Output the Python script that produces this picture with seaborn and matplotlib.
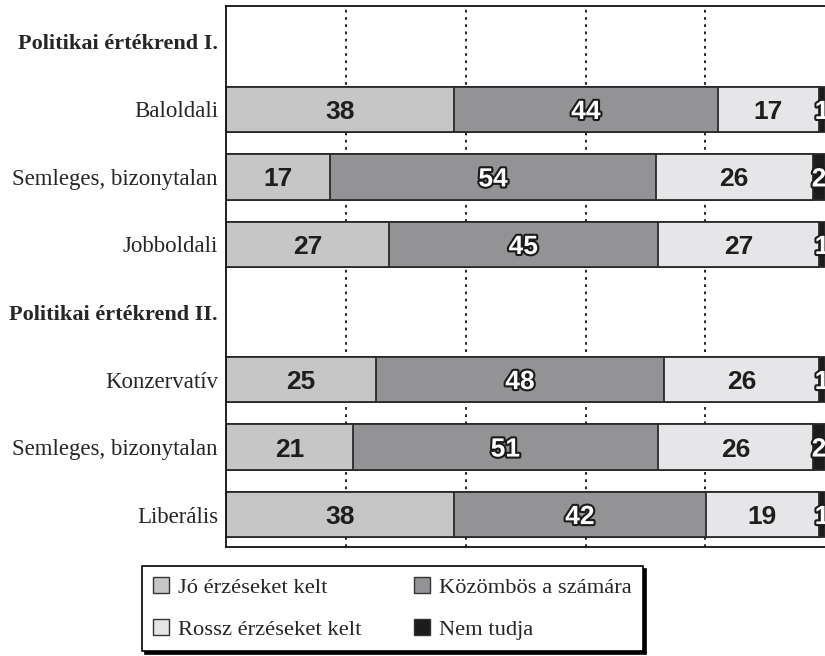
import numpy as np
import pandas as pd
import seaborn as sns
import matplotlib.pyplot as plt
import matplotlib.patheffects as pe
from matplotlib.patches import Patch

# data (percent)
groups = ["Politikai értékrend I.", "Politikai értékrend II."]
categories = ["Baloldali", "Semleges, bizonytalan", "Jobboldali",
              "Konzervatív", "Semleges, bizonytalan", "Liberális"]
group_of = [0, 0, 0, 1, 1, 1]
jo = [38.0, 17.4, 27.1, 25.0, 21.1, 38.0]
kozombos = [44.1, 54.3, 45.0, 48.1, 51.0, 42.1]
rossz = [16.9, 26.3, 26.9, 25.9, 25.9, 18.9]
nem_tudja = [1.0, 2.0, 1.0, 1.0, 2.0, 1.0]

series_names = ["Jó érzéseket kelt", "Közömbös a számára",
                "Rossz érzéseket kelt", "Nem tudja"]
colors = ["#c6c6c6", "#939396", "#e6e6e8", "#1c1c1c"]
edge = "#2a2a2a"

sns.set_style('white')
plt.rcParams['font.family'] = ['Liberation Serif', 'DejaVu Serif']

# row layout: a header row before each group
pos, tick_pos, tick_lab, tick_bold = [], [], [], []
row = 0
last = None
for cat, g in zip(categories, group_of):
    if g != last:
        tick_pos.append(row)
        tick_lab.append(groups[g])
        tick_bold.append(True)
        row += 1
        last = g
    pos.append(row)
    tick_pos.append(row)
    tick_lab.append(cat)
    tick_bold.append(False)
    row += 1

df = pd.DataFrame({'pos': pos, 'jo': jo, 'kozombos': kozombos,
                   'rossz': rossz, 'nem': nem_tudja})
cols = ['jo', 'kozombos', 'rossz', 'nem']
cum = df[cols].cumsum(axis=1)

fig = plt.figure(figsize=(8.25, 6.56), dpi=100)
ax = fig.add_axes([0.2743, 0.1662, 0.7257, 0.824])

for x in [20, 40, 60, 80]:
    ax.axvline(x, color='#111111', lw=1.3, ls=(0, (1.5, 2.5)), zorder=0)

# stacked bars drawn as overlapping cumulative bars, longest first
for i in reversed(range(4)):
    sns.barplot(x=cum[cols[i]], y=df['pos'], orient='y', native_scale=True,
                width=0.675, color=colors[i], saturation=1, edgecolor=edge,
                linewidth=1.3, errorbar=None, ax=ax, zorder=2)

outline = [pe.withStroke(linewidth=3, foreground='#1a1a1a')]
for r in range(len(df)):
    left = 0
    for i, c in enumerate(cols):
        v = df[c].iloc[r]
        xc = left + v / 2
        left += v
        if i in (1, 3):
            ax.text(xc, df['pos'].iloc[r], f"{round(v)}", ha='center', va='center_baseline',
                    fontsize=19, fontweight='bold', family='Liberation Sans',
                    color='white', path_effects=outline, zorder=5)
        else:
            ax.text(xc, df['pos'].iloc[r], f"{round(v)}", ha='center', va='center_baseline',
                    fontsize=19, fontweight='bold', family='Liberation Sans',
                    color='#1e1e1e', zorder=5)

ax.set_xlim(0, 100)
ax.set_ylim(7.48, -0.526)
ax.set_xticks([])
ax.set_yticks(tick_pos)
ax.set_yticklabels(tick_lab, fontsize=16.5)
for t, b in zip(ax.get_yticklabels(), tick_bold):
    if b:
        t.set_fontweight('bold')
        t.set_fontsize(16)
ax.tick_params(axis='y', length=0, pad=6)
ax.set_xlabel('')
ax.set_ylabel('')
for s in ['left', 'top', 'bottom']:
    ax.spines[s].set_color('#111111')
    ax.spines[s].set_linewidth(1.3)
ax.spines['right'].set_visible(False)

handles = [Patch(facecolor=colors[i], edgecolor='#333333', linewidth=1) for i in [0, 2, 1, 3]]
labels = [series_names[i] for i in [0, 2, 1, 3]]
leg = fig.legend(handles, labels, loc='upper left', bbox_to_anchor=(142 / 825, 1 - 566 / 656),
                 ncol=2, frameon=True, fancybox=False, edgecolor='black', framealpha=1,
                 shadow={'color': 'black', 'alpha': 1}, prop={'size': 16.2},
                 handlelength=0.7, handleheight=0.7, handletextpad=0.4,
                 columnspacing=2.35, borderpad=0.5, labelspacing=0.95, borderaxespad=0)
leg.get_frame().set_linewidth(1.2)

fig.savefig('out.png', dpi=100)
